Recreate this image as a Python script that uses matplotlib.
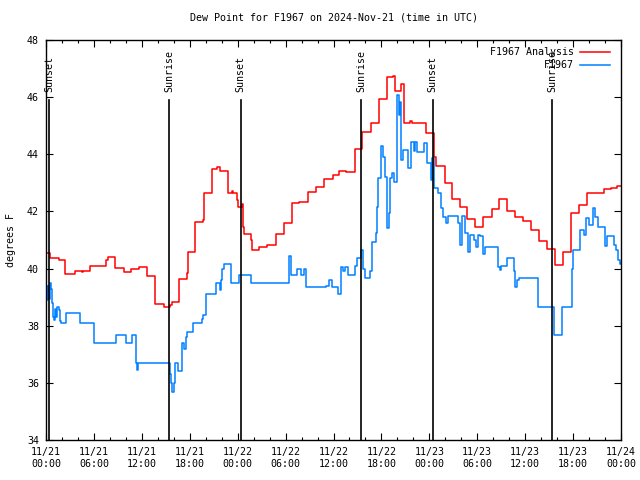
import pandas as pd
import matplotlib
matplotlib.use("Agg")
import matplotlib.pyplot as plt
import matplotlib.dates as mdates

plt.rcParams['font.family'] = ['DejaVu Sans Mono']
plt.rcParams['font.size'] = 7.2

start = pd.Timestamp("2024-11-21 00:00")

# F1967 Analysis (hours after 11/21 00:00 UTC, deg F)
hours_an = [0.00, 0.50, 1.63, 2.38, 3.63, 4.51, 4.63, 5.51, 6.64, 7.51, 7.76, 8.64, 9.77,
            10.64, 11.65, 12.65, 13.65, 14.78, 15.53, 15.78, 16.65, 17.66, 17.78, 18.66,
            19.66, 19.78, 20.79, 21.41, 21.79, 22.79, 23.29, 23.42, 23.92, 24.04, 24.54,
            24.67, 24.79, 25.67, 25.80, 26.67, 27.67, 28.80, 29.80, 30.80, 31.68, 32.81,
            33.81, 34.81, 35.94, 36.69, 37.57, 38.69, 39.57, 40.70, 41.70, 42.70, 43.45,
            43.70, 44.45, 44.83, 45.58, 45.83, 47.58, 48.59, 48.84, 49.96, 50.84, 51.84,
            52.72, 53.72, 54.72, 55.85, 56.72, 57.73, 58.73, 59.73, 60.73, 61.73, 62.74,
            63.74, 64.74, 65.74, 66.74, 67.74, 69.87, 70.75, 71.50, 72.00]
dew_an = [40.53, 40.37, 40.30, 39.81, 39.90, 39.87, 39.90, 40.08, 40.10, 40.30, 40.39, 40.02,
          39.87, 39.97, 40.04, 39.74, 38.76, 38.67, 38.72, 38.82, 39.62, 39.83, 40.57, 41.63,
          41.70, 42.63, 43.47, 43.54, 43.40, 42.66, 42.70, 42.65, 42.40, 42.17, 42.25, 41.47,
          41.21, 41.00, 40.65, 40.77, 40.82, 41.20, 41.61, 42.28, 42.32, 42.69, 42.85, 43.12,
          43.27, 43.43, 43.38, 44.17, 44.79, 45.08, 45.92, 46.69, 46.75, 46.23, 46.45, 45.08,
          45.17, 45.08, 44.73, 43.92, 43.60, 43.00, 42.43, 42.17, 41.72, 41.47, 41.82, 42.07,
          42.42, 42.01, 41.82, 41.66, 41.35, 40.97, 40.68, 40.12, 40.57, 41.96, 42.22, 42.63,
          42.77, 42.83, 42.89, 42.89]

# F1967 observations
hours_ob = [0.00, 0.13, 0.25, 0.38, 0.50, 0.63, 0.75, 0.88, 1.00, 1.13, 1.25, 1.38, 1.63,
            1.75, 1.88, 2.50, 4.26, 6.01, 8.77, 10.02, 10.77, 11.27, 11.40, 11.52, 15.53,
            15.65, 15.78, 16.03, 16.15, 16.53, 17.03, 17.28, 17.53, 17.66, 18.41, 19.53,
            19.66, 20.04, 21.29, 21.79, 21.91, 22.04, 22.29, 23.17, 24.17, 25.67, 30.43,
            30.68, 31.43, 31.93, 32.31, 32.56, 35.06, 35.44, 35.81, 36.44, 36.56, 36.94,
            37.19, 37.44, 37.82, 38.69, 38.94, 39.44, 39.69, 39.94, 40.57, 40.82, 41.32,
            41.45, 41.57, 41.95, 42.20, 42.45, 42.70, 42.95, 43.08, 43.33, 43.58, 43.95,
            44.20, 44.33, 44.45, 44.70, 45.33, 45.71, 46.08, 46.21, 46.46, 47.33, 47.71,
            48.21, 48.33, 48.59, 49.09, 49.46, 49.71, 50.09, 50.34, 51.59, 51.84, 52.09,
            52.47, 52.84, 53.09, 53.59, 53.84, 54.09, 54.35, 54.72, 54.97, 56.60, 56.85,
            56.97, 57.73, 58.60, 58.73, 58.98, 59.23, 61.61, 63.61, 64.61, 65.86, 65.99,
            66.87, 67.37, 67.62, 67.99, 68.49, 68.74, 69.12, 69.99, 70.24, 71.12, 71.37,
            71.62, 71.87, 72.00]
dew_ob = [39.40, 38.90, 39.40, 38.95, 39.50, 39.30, 38.80, 38.30, 38.20, 38.60, 38.30, 38.67,
          38.55, 38.15, 38.08, 38.43, 38.08, 37.38, 37.67, 37.38, 37.67, 36.68, 36.45, 36.68,
          36.30, 36.00, 35.69, 36.00, 36.68, 36.42, 37.38, 37.20, 37.60, 37.79, 38.08, 38.25,
          38.37, 39.10, 39.48, 39.25, 39.60, 40.00, 40.15, 39.48, 39.77, 39.48, 40.44, 39.77,
          40.00, 39.77, 40.00, 39.37, 39.40, 39.60, 39.37, 39.35, 39.10, 40.06, 39.90, 40.06,
          39.77, 40.10, 40.36, 40.65, 40.00, 39.66, 39.90, 40.92, 41.23, 42.17, 43.16, 44.29,
          43.92, 43.22, 41.41, 41.93, 43.16, 43.33, 43.04, 46.08, 45.37, 45.84, 43.80, 44.15,
          43.51, 44.44, 44.10, 44.44, 44.09, 44.41, 43.68, 43.10, 43.86, 42.81, 42.63, 42.11,
          41.82, 41.58, 41.84, 41.58, 40.83, 41.84, 41.23, 40.59, 41.17, 41.00, 40.77, 41.17,
          41.14, 40.51, 40.74, 40.06, 39.95, 40.09, 40.36, 39.90, 39.37, 39.60, 39.66, 38.67,
          37.67, 38.67, 40.00, 40.65, 41.35, 41.17, 41.76, 41.52, 42.11, 41.82, 41.47, 40.80,
          41.14, 40.83, 40.65, 40.30, 40.16, 40.20]

sun_hours = [0.38, 15.40, 24.40, 39.43, 48.43, 63.37]
sun_labels = ["Sunset", "Sunrise", "Sunset", "Sunrise", "Sunset", "Sunrise"]

t_an = start + pd.to_timedelta(hours_an, unit="h")
t_ob = start + pd.to_timedelta(hours_ob, unit="h")
t_sun = start + pd.to_timedelta(sun_hours, unit="h")

fig = plt.figure(figsize=(6.4, 4.8), dpi=100)
ax = fig.add_axes([46/640, 40/480, 575/640, 400/480])

ax.plot(t_an, dew_an, color="#ff0000", lw=1.1, drawstyle="steps-post", label="F1967 Analysis")
ax.plot(t_ob, dew_ob, color="#0080ff", lw=1.1, drawstyle="steps-post", label="F1967")

# sunrise / sunset markers
for t, lab in zip(t_sun, sun_labels):
    ax.plot([t, t], [34, 45.9], color="black", lw=1.2)
    ax.text(t, 46.18, lab, rotation=90, ha="center", va="bottom")

ax.set_xlim(start, start + pd.Timedelta(hours=72))
ax.set_ylim(34, 48)
ax.set_yticks(range(34, 49, 2))
ax.xaxis.set_major_locator(mdates.HourLocator(byhour=[0, 6, 12, 18]))
ax.xaxis.set_minor_locator(mdates.HourLocator(interval=2))
ax.xaxis.set_major_formatter(mdates.DateFormatter("%m/%d\n%H:%M"))
ax.tick_params(which="both", direction="in", top=True, right=True, width=0.8)
ax.tick_params(which="major", length=5, pad=5)
ax.tick_params(which="minor", length=2.5)
for s in ax.spines.values():
    s.set_linewidth(1)

ax.set_title("Dew Point for F1967 on 2024-Nov-21 (time in UTC)", fontsize=7.2, pad=14)
ax.set_ylabel("degrees F", labelpad=8)

ax.legend(loc="upper right", bbox_to_anchor=(617/640, 1 - 40/480), bbox_transform=fig.transFigure,
          frameon=False, markerfirst=False, handlelength=3.0, labelspacing=0.35,
          borderpad=0.2, handletextpad=0.6)

fig.savefig("out.png", dpi=100)
